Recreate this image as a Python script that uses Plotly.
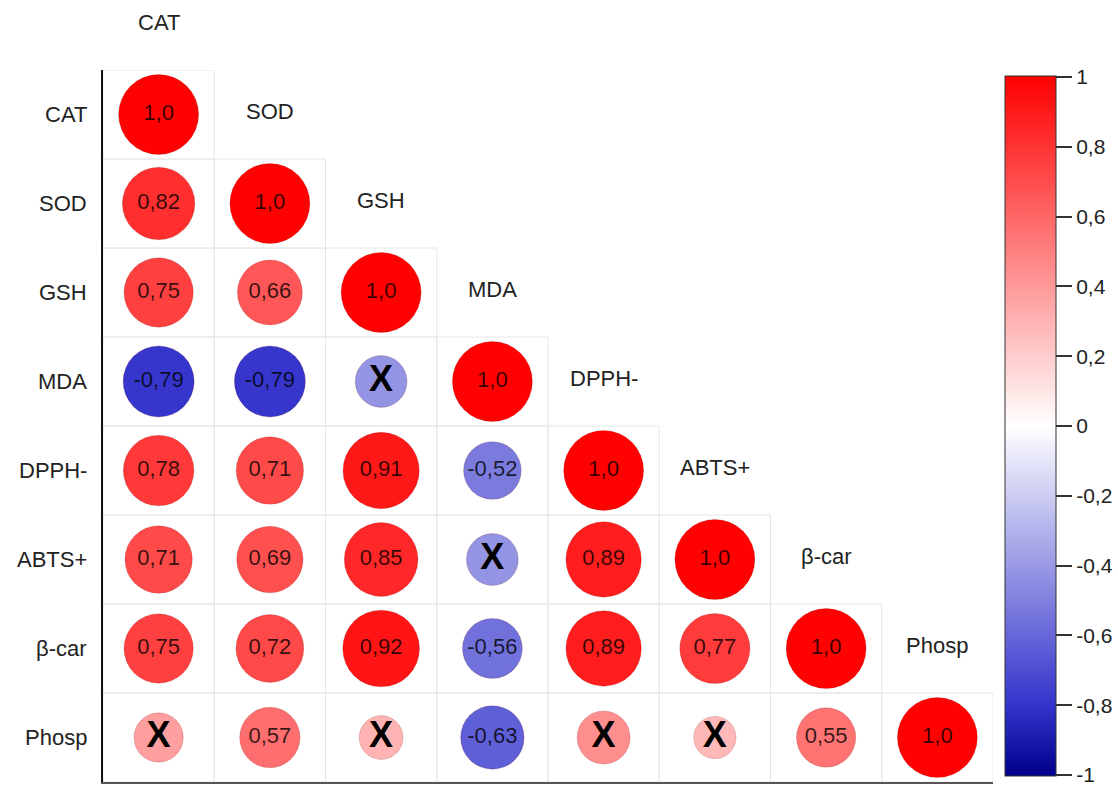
import math
import plotly.graph_objects as go

# ---- data ----
variables = ["CAT", "SOD", "GSH", "MDA", "DPPH-", "ABTS+", "β-car", "Phosp"]

# lower-triangle correlation rows (row i has i+1 values: columns 0..i)
r_CAT   = [1.0]
r_SOD   = [0.82, 1.0]
r_GSH   = [0.75, 0.66, 1.0]
r_MDA   = [-0.79, -0.79, -0.42, 1.0]
r_DPPH  = [0.78, 0.71, 0.91, -0.52, 1.0]
r_ABTS  = [0.71, 0.69, 0.85, -0.42, 0.89, 1.0]
r_BCAR  = [0.75, 0.72, 0.92, -0.56, 0.89, 0.77, 1.0]
r_PHOSP = [0.38, 0.57, 0.30, -0.63, 0.44, 0.28, 0.55, 1.0]

# significance flags (False -> non-significant, drawn with an X)
s_CAT   = [True]
s_SOD   = [True, True]
s_GSH   = [True, True, True]
s_MDA   = [True, True, False, True]
s_DPPH  = [True, True, True, True, True]
s_ABTS  = [True, True, True, False, True, True]
s_BCAR  = [True, True, True, True, True, True, True]
s_PHOSP = [False, True, False, True, False, False, True, True]

colorbar_tickvals = [-1, -0.8, -0.6, -0.4, -0.2, 0, 0.2, 0.4, 0.6, 0.8, 1]
colorbar_ticktext = ["-1", "-0,8", "-0,6", "-0,4", "-0,2", "0", "0,2", "0,4", "0,6", "0,8", "1"]

rows = [r_CAT, r_SOD, r_GSH, r_MDA, r_DPPH, r_ABTS, r_BCAR, r_PHOSP]
sigs = [s_CAT, s_SOD, s_GSH, s_MDA, s_DPPH, s_ABTS, s_BCAR, s_PHOSP]

# ---- layout geometry ----
W, H = 1118, 785
ML, MR, MT, MB = 103, 125, 70, 3
PLOT_H = H - MT - MB
ROW_PX = PLOT_H / len(variables)

# ---- build point lists ----
xs, ys, vals, sizes, texts = [], [], [], [], []
xx, xy = [], []
for i, (row, sig) in enumerate(zip(rows, sigs)):
    for j, (v, s) in enumerate(zip(row, sig)):
        xs.append(j)
        ys.append(i)
        vals.append(v)
        sizes.append(80 * math.sqrt(abs(v)))
        if i == j:
            texts.append("1,0")
        elif s:
            texts.append(f"{v:.2f}".replace(".", ","))
        else:
            texts.append("")
            xx.append(j)
            xy.append(i)

FONT = "Liberation Sans, Arial, Helvetica, sans-serif"
colorscale = [[0.0, "#00008B"], [0.1, "#3333CC"], [0.5, "#FFFFFF"], [1.0, "#FF0000"]]
EPS = 0.003  # tiny padding so the end ticks (-1 and 1) are kept by plotly

fig = go.Figure()

fig.add_trace(go.Scatter(
    x=xs, y=ys, mode="markers+text",
    text=texts, textposition="middle center",
    textfont=dict(family=FONT, size=22, color="rgba(0,0,0,0.78)"),
    marker=dict(
        size=sizes, sizemode="diameter", opacity=1,
        color=vals, cmin=-1 - EPS, cmax=1 + EPS, colorscale=colorscale,
        line=dict(width=0.8, color="rgba(110,0,0,0.22)"),
        showscale=True,
        colorbar=dict(
            x=(1005 - ML) / (W - ML - MR), xref="paper", xanchor="left",
            y=1 - 6 / PLOT_H, yref="paper", yanchor="top",
            lenmode="pixels", len=700, thickness=51,
            xpad=0, ypad=0,
            outlinewidth=1, outlinecolor="#333",
            tickmode="array", tickvals=colorbar_tickvals, ticktext=colorbar_ticktext,
            ticks="outside", ticklen=16, tickcolor="#333", tickwidth=1.5,
            ticklabeloverflow="allow",
            tickfont=dict(family=FONT, size=21, color="#222"),
        ),
    ),
    hoverinfo="skip", showlegend=False,
))

fig.add_trace(go.Scatter(
    x=xx, y=xy, mode="text", text=["<b>X</b>"] * len(xx),
    textposition="middle center",
    textfont=dict(family=FONT, size=36, color="#000"),
    hoverinfo="skip", showlegend=False,
))

# cell borders (lower triangle)
for i in range(len(variables)):
    for j in range(i + 1):
        fig.add_shape(type="rect", x0=j - 0.5, x1=j + 0.5, y0=i - 0.5, y1=i + 0.5,
                      line=dict(color="#e6e6e6", width=1), layer="below")

# row labels (left) and column labels (in the cell right of / above the diagonal)
for i, name in enumerate(variables):
    fig.add_annotation(x=-0.5, y=i, text=name, showarrow=False, xanchor="right",
                       xshift=-14, font=dict(family=FONT, size=22, color="#222"))
    fig.add_annotation(x=i, y=i, yshift=ROW_PX + 3, text=name, showarrow=False,
                       xanchor="center", font=dict(family=FONT, size=22, color="#222"))

fig.update_xaxes(range=[-0.5, 7.5], showgrid=False, zeroline=False, showticklabels=False,
                 showline=True, linecolor="#555", linewidth=2, fixedrange=True)
fig.update_yaxes(range=[7.5, -0.5], showgrid=False, zeroline=False, showticklabels=False,
                 showline=True, linecolor="#111", linewidth=2, fixedrange=True)

fig.update_layout(
    width=W, height=H,
    margin=dict(l=ML, r=MR, t=MT, b=MB),
    plot_bgcolor="white", paper_bgcolor="white",
    font=dict(family=FONT),
    separators=", ",
)

fig.write_html("out.html")
